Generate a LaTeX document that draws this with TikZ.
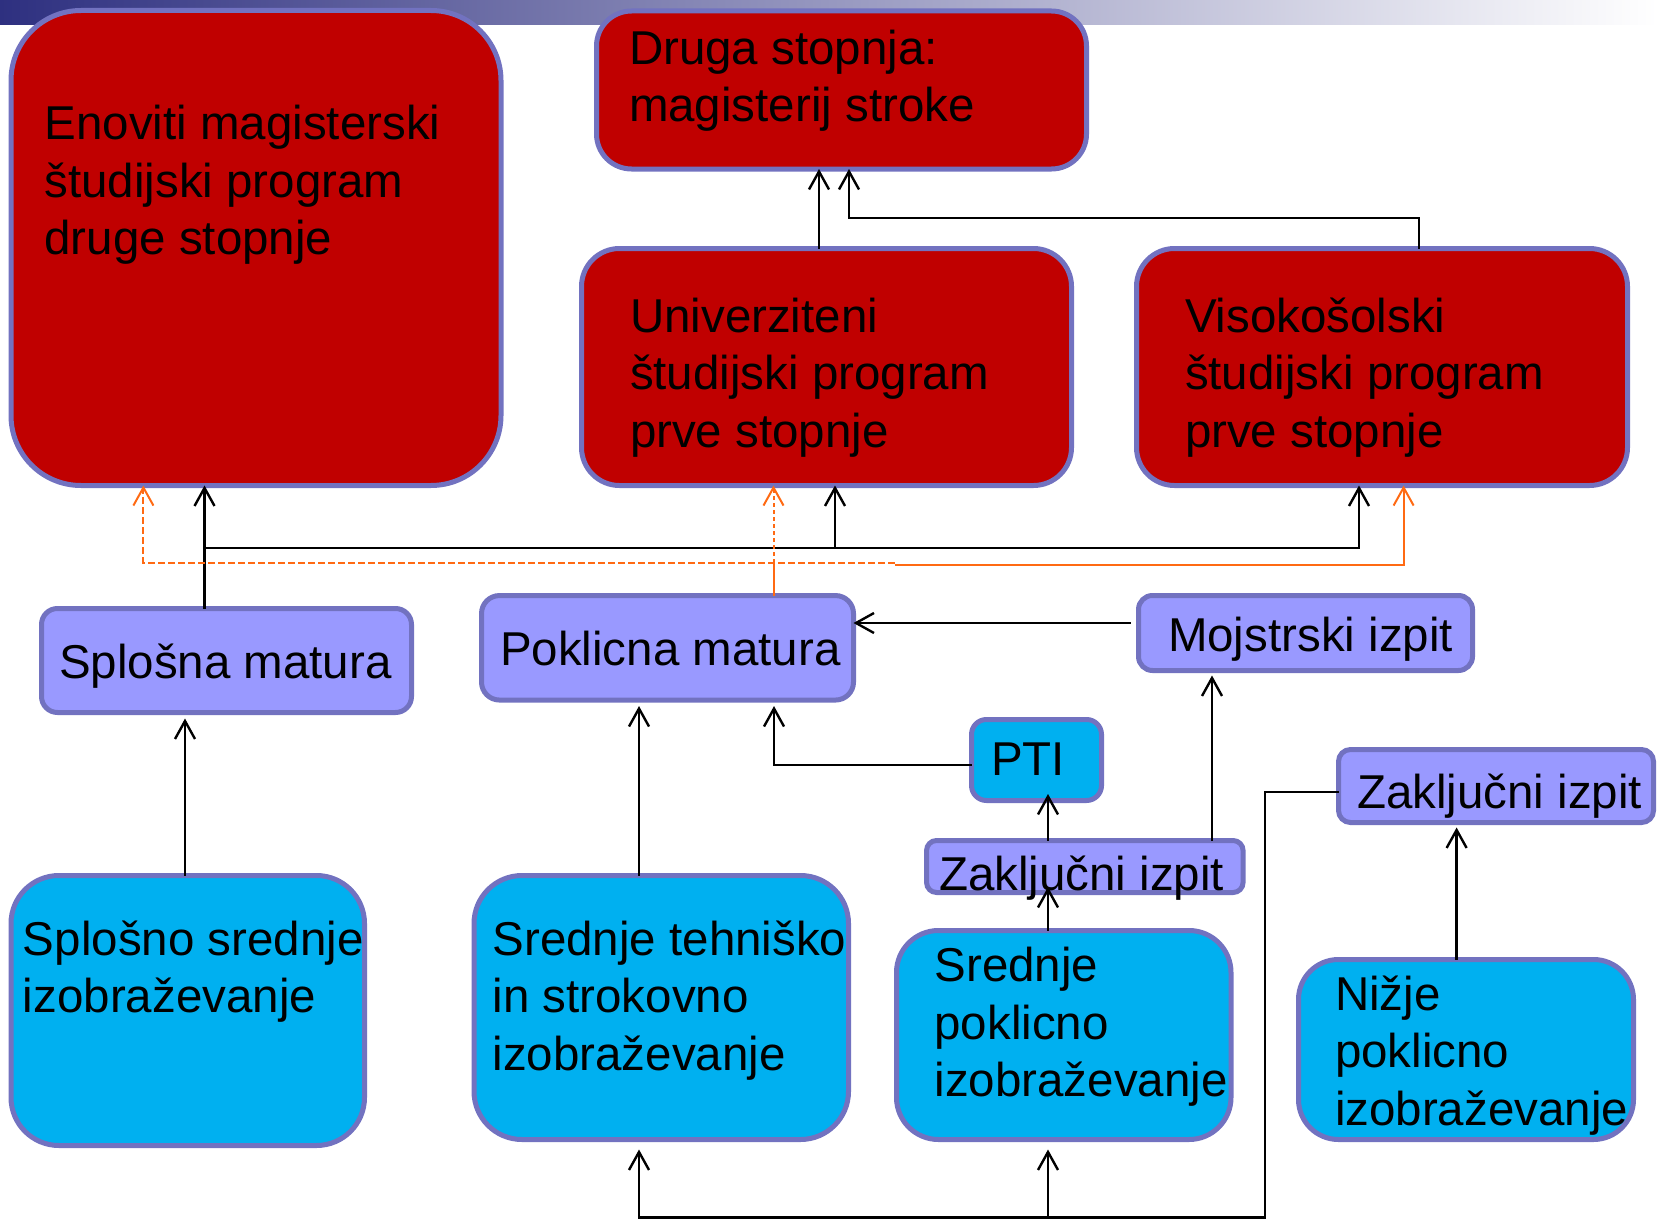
\documentclass[tikz,border=0pt]{standalone}
\usepackage{fontspec}
\setmainfont{Liberation Sans}
\usetikzlibrary{arrows.meta}
\definecolor{bred}{HTML}{C00000}
\definecolor{bpur}{HTML}{9999FF}
\definecolor{bcyan}{HTML}{00B0F0}
\definecolor{bord}{HTML}{7272C0}
\definecolor{orng}{HTML}{FF6A13}
\definecolor{barA}{RGB}{46,48,128}
\definecolor{barC}{RGB}{195,195,212}
\begin{document}
\begin{tikzpicture}[x=1pt,y=-1pt,
  box/.style={draw=bord, line width=5pt, inner sep=0pt, outer sep=0pt},
  txt/.style={anchor=base west, align=left, inner sep=0pt, outer sep=0pt,
    font=\fontsize{47.5}{57.5}\selectfont},
  arr/.style={line width=2.4pt, -{Straight Barb[length=18pt,width=20pt,line width=2.4pt]}},
  ln/.style={line width=2.4pt},
  oarr/.style={orng, line width=2pt, -{Straight Barb[length=18pt,width=20pt,line width=2pt]}},
  oln/.style={orng, line width=2pt},
  odash/.style={dash pattern=on 7pt off 3pt},
  odot/.style={dash pattern=on 4pt off 3pt}]
\useasboundingbox (0,0) rectangle (1657,1220);
\shade[left color=barA, middle color=barC, right color=white] (0,0) rectangle (1657,25);

% boxes
\node[box, fill=bred, rounded corners=70pt, minimum width=490pt, minimum height=475pt] (en) at (256,248) {};
\node[box, fill=bred, rounded corners=35pt, minimum width=490pt, minimum height=158pt] (dr) at (841.5,90) {};
\node[box, fill=bred, rounded corners=38pt, minimum width=490pt, minimum height=237pt] (uni) at (826.5,367) {};
\node[box, fill=bred, rounded corners=38pt, minimum width=491pt, minimum height=237pt] (vis) at (1382,367) {};
\node[box, fill=bpur, rounded corners=16pt, minimum width=370pt, minimum height=104pt] (sm) at (226.5,660.5) {};
\node[box, fill=bpur, rounded corners=18pt, minimum width=372pt, minimum height=104.5pt] (pm) at (667.5,647.8) {};
\node[box, fill=bpur, rounded corners=14pt, minimum width=334pt, minimum height=75pt] (mi) at (1305.5,633) {};
\node[box, fill=bcyan, rounded corners=15pt, minimum width=130pt, minimum height=81pt] (pti) at (1036.5,760) {};
\node[box, fill=bpur, rounded corners=10pt, minimum width=316.5pt, minimum height=52pt] (zm) at (1084.8,866.5) {};
\node[box, fill=bpur, rounded corners=12pt, minimum width=315pt, minimum height=73pt] (zr) at (1496,786) {};
\node[box, fill=bcyan, rounded corners=48pt, minimum width=353.5pt, minimum height=270pt] (ss) at (187.75,1010.5) {};
\node[box, fill=bcyan, rounded corners=48pt, minimum width=374.5pt, minimum height=264pt] (st) at (661.25,1007.5) {};
\node[box, fill=bcyan, rounded corners=42pt, minimum width=334.5pt, minimum height=209pt] (sp) at (1063.75,1035) {};
\node[box, fill=bcyan, rounded corners=40pt, minimum width=335pt, minimum height=180pt] (np) at (1466,1049.5) {};

% texts (anchor = baseline of the last line)
\node[txt] (en-t) at (44.5,254.5) {Enoviti magisterski\\študijski program\\druge stopnje};
\node[txt] (dr-t) at (629,122) {Druga stopnja:\\magisterij stroke};
\node[txt] (uni-t) at (630,447) {Univerziteni\\študijski program\\prve stopnje};
\node[txt] (vis-t) at (1185,447) {Visokošolski\\študijski program\\prve stopnje};
\node[txt] (sm-t) at (59,678) {Splošna matura};
\node[txt] (pm-t) at (500,665) {Poklicna matura};
\node[txt] (mi-t) at (1168,651.7) {Mojstrski izpit};
\node[txt] (pti-t) at (991,775) {PTI};
\node[txt] (ss-t) at (23,1012.5) {Splošno srednje\\izobraževanje};
\node[txt] (st-t) at (492.6,1070) {Srednje tehniško\\in strokovno\\izobraževanje};
\node[txt] (sp-t) at (934.5,1096.7) {Srednje\\poklicno\\izobraževanje};
\node[txt] (np-t) at (1335,1125) {Nižje\\poklicno\\izobraževanje};
\node[txt] (zr-t) at (1357,808) {Zaključni izpit};
\node[txt] (zm-t) at (939,890) {Zaključni izpit};

% helper coordinates
\coordinate (xA) at (819,0);
\coordinate (xB) at (849,0);
\coordinate (xC) at (1419,0);
\coordinate (yB) at (0,218);
\coordinate (xD) at (204.5,0);
\coordinate (yE) at (0,548);
\coordinate (xF) at (1359,0);
\coordinate (xG) at (835,0);
\coordinate (xH) at (773.5,0);
\coordinate (yH) at (0,562.7);
\coordinate (xI) at (143.4,0);
\coordinate (xJ) at (894.5,0);
\coordinate (yJ) at (0,565);
\coordinate (xK) at (1403.6,0);
\coordinate (yL) at (0,623);
\coordinate (xM) at (185,0);
\coordinate (xN) at (639,0);
\coordinate (yP) at (0,765);
\coordinate (xP) at (774,0);
\coordinate (xQ) at (1048,0);
\coordinate (xR) at (1212,0);
\coordinate (xS) at (1456.6,0);
\coordinate (yT) at (0,791.7);
\coordinate (xU) at (1265,0);
\coordinate (yV) at (0,1217.5);

% connectors: top
\draw[arr] (uni.north -| xA) -- (dr.south -| xA);
\draw[arr] (vis.north -| xC) |- (xB |- yB) -- (dr.south -| xB);
\draw[arr] (sm.north -| xD) -- (en.south -| xD);
\draw[arr] (xD |- yE) -| (vis.south -| xF);
\draw[arr] (xG |- yE) -- (uni.south -| xG);

% orange
\draw[oln] (pm.north -| xH) -- (xH |- yH);
\draw[oarr, odash] (xJ |- yH) -| (en.south -| xI);
\draw[oarr, odot] (xH |- yH) -- (uni.south -| xH);
\draw[oarr] (xJ |- yJ) -| (vis.south -| xK);

% middle
\draw[arr, shorten <=8pt] (mi.west |- yL) -- (pm.east |- yL);
\draw[arr, shorten >=6pt] (ss.north -| xM) -- (sm.south -| xM);
\draw[arr, shorten >=6pt] (st.north -| xN) -- (pm.south -| xN);
\draw[arr, shorten >=6pt] (pti.west |- yP) -| (pm.south -| xP);
\draw[arr, shorten >=-6.5pt] (zm.north -| xQ) -- (pti.south -| xQ);
\draw[arr, shorten >=5pt] (zm.north -| xR) -- (mi.south -| xR);
\draw[arr, shorten >=-5.5pt] (sp.north -| xQ) -- (zm.south -| xQ);
\draw[arr, shorten >=5pt] (np.north -| xS) -- (zr.south -| xS);

% bottom
\draw[arr, shorten >=10pt] (zr.west |- yT) -| (xU |- yV) -| (st.south -| xN);
\draw[arr, shorten >=10pt] (xQ |- yV) -- (sp.south -| xQ);
\end{tikzpicture}
\end{document}
